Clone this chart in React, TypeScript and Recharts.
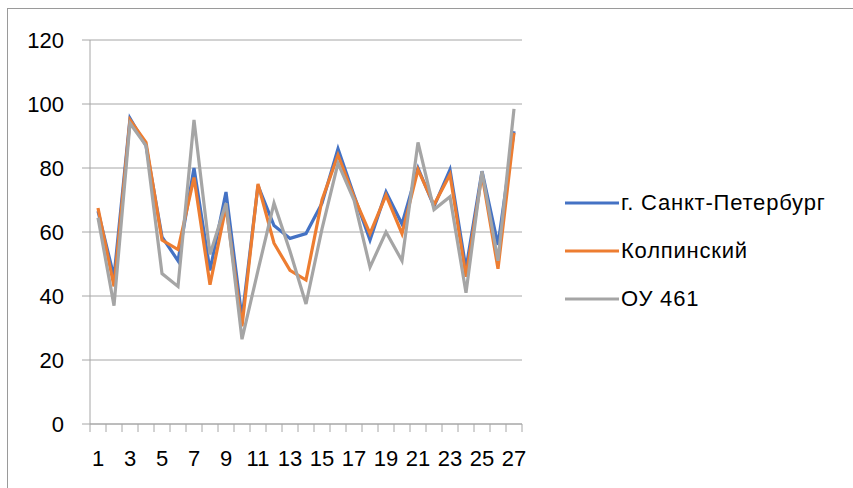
import { LineChart, Line, XAxis, YAxis, CartesianGrid } from 'recharts';

const categories = ['1', '2', '3', '4', '5', '6', '7', '8', '9', '10', '11', '12', '13', '14', '15', '16', '17', '18', '19', '20', '21', '22', '23', '24', '25', '26', '27'];
const spb = [66.5, 46, 95.5, 87, 58.5, 51, 80, 48, 72.5, 33, 74.5, 62, 58, 59.5, 69, 86, 71.5, 57.5, 72.5, 62.5, 80, 68, 79.5, 48.5, 79, 56, 91.5];
const kolp = [67.5, 43, 95, 88, 57.5, 54.5, 77, 43.5, 68, 30.5, 75, 56.5, 48, 45, 70, 84, 71, 59.5, 71.5, 59.5, 79.5, 68.5, 78, 46, 78, 48.5, 91];
const ou461 = [64.5, 37, 94, 87, 47, 43, 95, 53, 69, 26.5, 48, 69, 54, 37.5, 61, 81.5, 70, 49, 60, 51, 88, 67, 71, 41, 79, 51, 98.5];
const yTicks = [0, 20, 40, 60, 80, 100, 120];

const series = [
    { key: 'spb', name: 'г. Санкт-Петербург', color: '#4472C4' },
    { key: 'kolp', name: 'Колпинский', color: '#ED7D31' },
    { key: 'ou', name: 'ОУ 461', color: '#A5A5A5' },
];

const data = categories.map((c, i) => ({ cat: c, spb: spb[i], kolp: kolp[i], ou: ou461[i] }));

const W = 853;
const H = 488;
const LEFT = 90;
const RIGHT = 331;
const TOP = 40;
const BOTTOM = 64;
const FONT = '"Liberation Sans", Arial, sans-serif';
const AXIS = '#A6A6A6';
// Excel-style category bands: points sit in the middle of each band
const band = (W - LEFT - RIGHT) / categories.length;

function XTick(props: any) {
    const { x, y, index, payload } = props;
    const left = x - band / 2;
    return (
        <g>
            <line x1={left} x2={left} y1={y} y2={y + 8} stroke={AXIS} strokeWidth={1} />
            {index === categories.length - 1 && (
                <line x1={left + band} x2={left + band} y1={y} y2={y + 8} stroke={AXIS} strokeWidth={1} />
            )}
            {index % 2 === 0 && (
                <text x={x} y={y + 42} textAnchor="middle" fontSize={22} fill="#000" fontFamily={FONT}>
                    {payload.value}
                </text>
            )}
        </g>
    );
}

export default function App() {
    return (
        <div style={{ position: 'absolute', left: 0, top: 0, width: W, height: H, background: '#fff' }}>
            <div style={{ position: 'absolute', left: 7, top: 8, right: 0, bottom: 0, borderLeft: '1px solid #9a9a9a', borderTop: '1px solid #9a9a9a' }} />
            <div style={{ position: 'absolute', left: 0, top: 0 }}>
                <LineChart width={W} height={H} data={data} margin={{ top: TOP, right: RIGHT, left: 0, bottom: 0 }}>
                    <CartesianGrid vertical={false} stroke={AXIS} strokeWidth={1} />
                    <XAxis
                        dataKey="cat"
                        interval={0}
                        height={BOTTOM}
                        padding={{ left: band / 2, right: band / 2 }}
                        tickSize={0}
                        tickMargin={0}
                        tickLine={false}
                        axisLine={{ stroke: AXIS }}
                        tick={<XTick />}
                    />
                    <YAxis
                        width={LEFT}
                        domain={[0, 120]}
                        ticks={yTicks}
                        interval={0}
                        tickSize={8}
                        tickMargin={18}
                        axisLine={{ stroke: AXIS }}
                        tickLine={{ stroke: AXIS }}
                        tick={{ fontSize: 22, fill: '#000', fontFamily: FONT }}
                    />
                    {series.map(s => (
                        <Line
                            key={s.key}
                            dataKey={s.key}
                            name={s.name}
                            type="linear"
                            stroke={s.color}
                            strokeWidth={3.2}
                            dot={false}
                            isAnimationActive={false}
                        />
                    ))}
                </LineChart>
            </div>
            <div style={{ position: 'absolute', left: 565, top: 203, fontFamily: FONT, fontSize: 22, letterSpacing: 0.8, color: '#000' }}>
                {series.map((s, i) => (
                    <div key={s.key} style={{ position: 'absolute', left: 0, top: i * 48 - 14, height: 28, display: 'flex', alignItems: 'center', whiteSpace: 'nowrap' }}>
                        <svg width={54} height={6} style={{ marginRight: 2 }}>
                            <line x1={0} x2={54} y1={3} y2={3} stroke={s.color} strokeWidth={3.2} />
                        </svg>
                        <span>{s.name}</span>
                    </div>
                ))}
            </div>
        </div>
    );
}
